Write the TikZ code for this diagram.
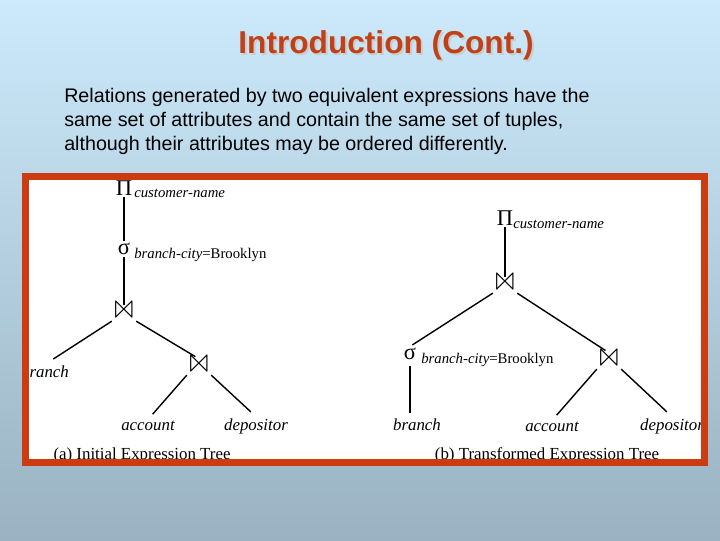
\documentclass[tikz,border=0pt]{standalone}
\usepackage{fontspec}
\usepackage{latexsym}
\setmainfont{Liberation Serif}
\newfontfamily\arialfont{Liberation Sans}
\usetikzlibrary{positioning}
\definecolor{titlered}{RGB}{192,64,24}
\definecolor{framered}{RGB}{204,60,16}
\definecolor{bgtop}{RGB}{204,234,252}
\definecolor{bgbot}{RGB}{154,178,193}

\begin{document}
\begin{tikzpicture}[
  x=0.025cm, y=-0.025cm,
  op/.style={inner sep=1pt, font=\fontsize{16}{16}\selectfont},
  joinop/.style={inner sep=1pt, font=\fontsize{21}{21}\selectfont},
  opsub/.style={inner sep=0pt, anchor=base west, font=\fontsize{10.5}{12}\selectfont\itshape},
  rel/.style={inner sep=1pt, font=\fontsize{12}{14}\selectfont\itshape},
  capt/.style={inner sep=0pt, anchor=base, font=\fontsize{12}{14}\selectfont},
  edge/.style={line width=1pt}
]
\useasboundingbox (0,0) rectangle (720,540);
\shade[top color=bgtop, bottom color=bgbot] (0,0) rectangle (720,540);

% title and text
\node[font=\arialfont\bfseries\fontsize{22.5}{26}\selectfont, text=black!20] at (388,47) {Introduction (Cont.)};
\node[font=\arialfont\bfseries\fontsize{22.5}{26}\selectfont, text=titlered] (title) at (386,45) {Introduction (Cont.)};
\node[font=\arialfont\fontsize{14}{17}\selectfont, align=left, anchor=north west, inner sep=0pt] (intro) at (64,88)
  {Relations generated by two equivalent expressions have the\\
   same set of attributes and contain the same set of tuples,\\
   although their attributes may be ordered differently.};

\fill[white] (22,173) rectangle (708,466);

\begin{scope}
\clip (29,180) rectangle (701,459);
% (a) initial tree
\node[op] (pa) at (124,188) {Π};
\node[opsub] (pasub) at (134,197) {customer-name};
\node[op] (sa) at (124,249) {σ};
\node[opsub] (sasub) at (134,258) {branch-city\upshape=Brooklyn};
\node[joinop] (ja) at (124,313) {$\Join$};
\node[rel] (brA) at (45,372) {branch};
\node[joinop] (jaa) at (199,367) {$\Join$};
\node[rel] (acA) at (148,426) {account};
\node[rel] (deA) at (256,426) {depositor};
\node[capt] (capA) at (142,459) {(a) Initial Expression Tree};

\draw[edge] (pa) -- (sa);
\draw[edge] (sa) -- (ja);
\draw[edge, shorten >=7pt] (ja.south west) -- (brA.north);
\draw[edge, shorten >=3pt] (ja.south east) -- (jaa.north);
\draw[edge, shorten >=5pt] (jaa.south west) -- (acA.north);
\draw[edge, shorten >=5pt] (jaa.south east) -- (deA.north);

% (b) transformed tree
\node[op] (pb) at (505,218) {Π};
\node[opsub] (pbsub) at (513,228) {customer-name};
\node[joinop] (jb) at (505,285) {$\Join$};
\node[op] (sb) at (410,354) {σ};
\node[opsub] (sbsub) at (421,363) {branch-city\upshape=Brooklyn};
\node[rel] (brB) at (417,425) {branch};
\node[joinop] (jc) at (609,361) {$\Join$};
\node[rel] (acB) at (552,427) {account};
\node[rel] (deB) at (672,426) {depositor};
\node[capt] (capB) at (547,459) {(b) Transformed Expression Tree};

\draw[edge] (pb) -- (jb);
\draw[edge, shorten >=2pt] (jb.south west) -- (sb.north);
\draw[edge, shorten >=3pt] (jb.south east) -- (jc.north);
\draw[edge, shorten <=3pt, shorten >=3pt] (sb.south) -- (sb.south |- brB.north);
\draw[edge, shorten >=5pt] (jc.south west) -- (acB.north);
\draw[edge, shorten >=5pt] (jc.south east) -- (deB.north);
\end{scope}

\draw[framered, line width=0.175cm] (25.5,176.5) rectangle (704.5,462.5);
\end{tikzpicture}
\end{document}
